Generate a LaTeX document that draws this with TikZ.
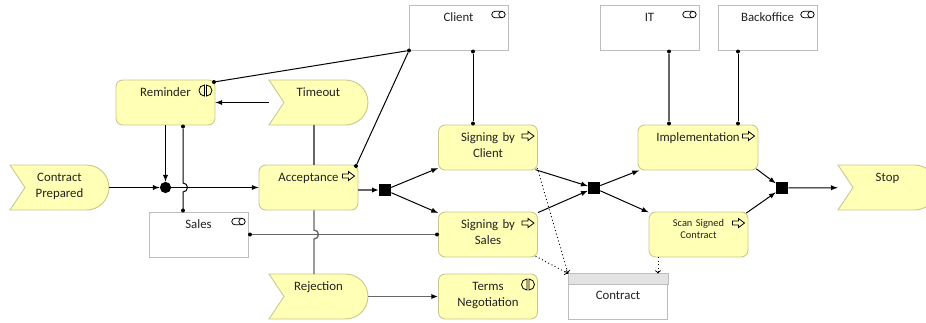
\documentclass[tikz,border=0pt]{standalone}
\usepackage{fontspec}
\setmainfont{Carlito}
\usetikzlibrary{calc,arrows.meta}
\definecolor{actfill}{HTML}{FFFFB5}
\definecolor{actline}{HTML}{C9C98F}
\definecolor{roleline}{HTML}{BDBDBD}
\definecolor{hdrfill}{HTML}{E3E3E3}
\definecolor{lbltext}{HTML}{222222}
\tikzset{
  boxtext/.style={inner sep=0pt,minimum width=74.25pt,minimum height=33.75pt,text width=74.25pt,
    align=center,text height=12pt,text depth=21.75pt,font=\fontsize{9.6}{12}\selectfont,text=lbltext},
  actbox/.style={boxtext,draw=actline,fill=actfill,line width=.7pt,rounded corners=5pt},
  rolebox/.style={boxtext,draw=roleline,fill=white,line width=.7pt},
  evtext/.style={boxtext},
  evshape/.style={draw=actline,fill=actfill,line width=.7pt},
  junction/.style={fill=black,inner sep=0pt,minimum size=9pt},
  juncround/.style={circle,fill=black,inner sep=0pt,minimum size=8.4pt},
  dotend/.style={circle,fill=black,inner sep=0pt,minimum size=3pt},
  flow/.style={->,>=latex,line width=.75pt},
  assoc/.style={line width=.75pt},
  softline/.style={line width=1pt,draw=black!60},
  softflow/.style={-{Latex[black,length=5pt,width=4pt]},line width=1pt,draw=black!60},
  access/.style={->,>=to,dotted,line width=.7pt},
  procicon/.pic={
    \draw[fill=actfill,line width=.6pt] (-6,-2) -- (0,-2) -- (0,-4.5) -- (6,0) -- (0,4.5) -- (0,2) -- (-6,2) -- cycle;
  },
  intericon/.pic={
    \draw[line width=.6pt] (-1,-5.5) arc[start angle=-90,end angle=-270,radius=5.5] -- cycle;
    \draw[line width=.6pt] (1,-5.5) arc[start angle=-90,end angle=90,radius=5.5] -- cycle;
  },
  roleicon/.pic={
    \draw[line width=.6pt] (3.5,-3.2) -- (-3.5,-3.2) arc[start angle=-90,end angle=-270,radius=3.2] -- (3.5,3.2);
    \draw[line width=.6pt] (3.5,0) circle[radius=3.2];
  },
}
\newcommand{\evbg}[2]{\draw[evshape] (#1,#2) -- ++(76.5,0) arc[start angle=-90,end angle=90,radius=22.5] -- ++(-76.5,0) -- ++(15,-22.5) -- cycle;}
\begin{document}
\begin{tikzpicture}[x=.75pt,y=-.75pt]
  \useasboundingbox (0,0) rectangle (926,322);
  \clip (0,0) rectangle (926,322);

  % events
  \evbg{10}{165}
  \evbg{269}{80}
  \evbg{269}{274}
  \evbg{838}{165}
  \node[evtext] (cprep) at (59.5,187.5) {Contract\\Prepared};
  \node[evtext] (tmo) at (318.5,102.5) {Timeout};
  \node[evtext] (rej) at (318.5,296.5) {Rejection};
  \node[evtext] (stop) at (887.5,187.5) {Stop};

  % actors
  \node[rolebox] (client) at (458.5,27.5) {Client};
  \node[rolebox] (itdep) at (649.5,27.5) {IT};
  \node[rolebox] (backoff) at (767.5,27.5) {Backoffice};
  \node[rolebox] (sales) at (198.5,234.5) {Sales};

  % activities
  \node[actbox] (rem) at (165.5,102.5) {Reminder};
  \node[actbox] (acc) at (308.5,187.5) {Acceptance};
  \node[actbox] (sgc) at (488,147.5) {Signing by\\Client};
  \node[actbox] (sgs) at (488,234.5) {Signing by\\Sales};
  \node[actbox] (terms) at (488,296.5) {Terms\\Negotiation};
  \node[actbox,minimum width=90pt,text width=90pt] (impl) at (698,147.5) {Implementation};
  \node[actbox,text height=11pt,text depth=22.75pt,font=\fontsize{7.8}{9}\selectfont] (scan) at (698.5,234.5) {Scan Signed\\Contract};

  % document
  \node[rolebox,text height=19pt,text depth=14.75pt] (ctr) at (618,296.5) {Contract};
  \draw[draw=roleline,fill=hdrfill,line width=.7pt] (ctr.north west) rectangle ($(ctr.north east)+(0,11)$);

  % icons
  \pic at ($(acc.north east)+(-10,11.5)$) {procicon};
  \pic at ($(sgc.north east)+(-10,11.5)$) {procicon};
  \pic at ($(sgs.north east)+(-10,11.5)$) {procicon};
  \pic at ($(impl.north east)+(-10,11.5)$) {procicon};
  \pic at ($(scan.north east)+(-10,11.5)$) {procicon};
  \pic at ($(rem.north east)+(-10,11)$) {intericon};
  \pic at ($(terms.north east)+(-10,11)$) {intericon};
  \pic at ($(client.north east)+(-10,10)$) {roleicon};
  \pic at ($(itdep.north east)+(-10,10)$) {roleicon};
  \pic at ($(backoff.north east)+(-10,10)$) {roleicon};
  \pic at ($(sales.north east)+(-10,10)$) {roleicon};

  % junctions
  \node[juncround] (jmain) at (165.5,187.5) {};
  \node[junction] (ja) at (385,190) {};
  \node[junction] (jb) at (594,188) {};
  \node[junction] (jc) at (782,188) {};

  % association ends
  \node[dotend] (dcr) at (409,50.5) {};
  \node[dotend] (drem) at (214,82) {};
  \node[dotend] (dacc) at (356,166) {};
  \node[dotend] (dcs) at (473,51.5) {};
  \node[dotend] (dsg) at (473,123.5) {};
  \node[dotend] (dit) at (669,51.5) {};
  \node[dotend] (dimpa) at (669,123.5) {};
  \node[dotend] (dbo) at (738,51.5) {};
  \node[dotend] (dimpb) at (738,123.5) {};
  \node[dotend] (drema) at (183,126.5) {};
  \node[dotend] (dsala) at (183,210.5) {};
  \node[dotend] (dsalb) at (250,234.5) {};
  \node[dotend] (dsgs) at (437,234.5) {};

  % bends and free ends
  \coordinate (hopa) at (183,183);
  \coordinate (hopb) at (314,230);
  \coordinate (lnktop) at (314,125);
  \coordinate (lnkbot) at (314,274);
  \coordinate (scanout) at (658,257);

  \draw[flow] (cprep) -- (jmain);
  \draw[flow] (rem) -- (jmain);
  \draw[flow] (jmain) -- (acc);
  \draw[flow] (tmo) -- (rem);
  \draw[softflow] (ja -| acc.east) -- (ja);
  \draw[flow] (ja) -- (sgc);
  \draw[flow] (ja) -- (sgs);
  \draw[flow,shorten <=-2pt] (sgc.south east) -- (jb);
  \draw[flow] (sgs) -- (jb);
  \draw[flow] (jb) -- (impl);
  \draw[flow] (jb) -- (scan);
  \draw[flow,shorten <=-2pt] (impl.south east) -- (jc);
  \draw[flow,shorten <=-2pt] (scan.north east) -- (jc);
  \draw[flow] (jc) -- (stop);
  \draw[softflow] (rej) -- (terms);

  \draw[assoc] (dcr) -- (drem);
  \draw[assoc] (dcr) -- (dacc);
  \draw[assoc] (dcs) -- (dsg);
  \draw[softline] (dit) -- (dimpa);
  \draw[assoc] (dbo) -- (dimpb);
  \draw[softline] (dsalb) -- (dsgs);
  \draw[assoc] (dsala) -- (hopa |- dsala) -- ($(hopa)+(0,9)$) arc[start angle=90,end angle=-90,radius=4.5] -- (drema);
  \draw[softline] (lnktop) -- (lnktop |- acc.north);
  \draw[softline] (lnktop |- acc.south) -- (hopb) arc[start angle=-90,end angle=90,radius=4.5] -- (lnkbot);

  \draw[access,shorten <=-2pt] (sgc.south east) -- (ctr.north west);
  \draw[access,shorten <=-2pt] (sgs.south east) -- (ctr.north west);
  \draw[access] (scanout) -- (scanout |- ctr.north);
\end{tikzpicture}
\end{document}
